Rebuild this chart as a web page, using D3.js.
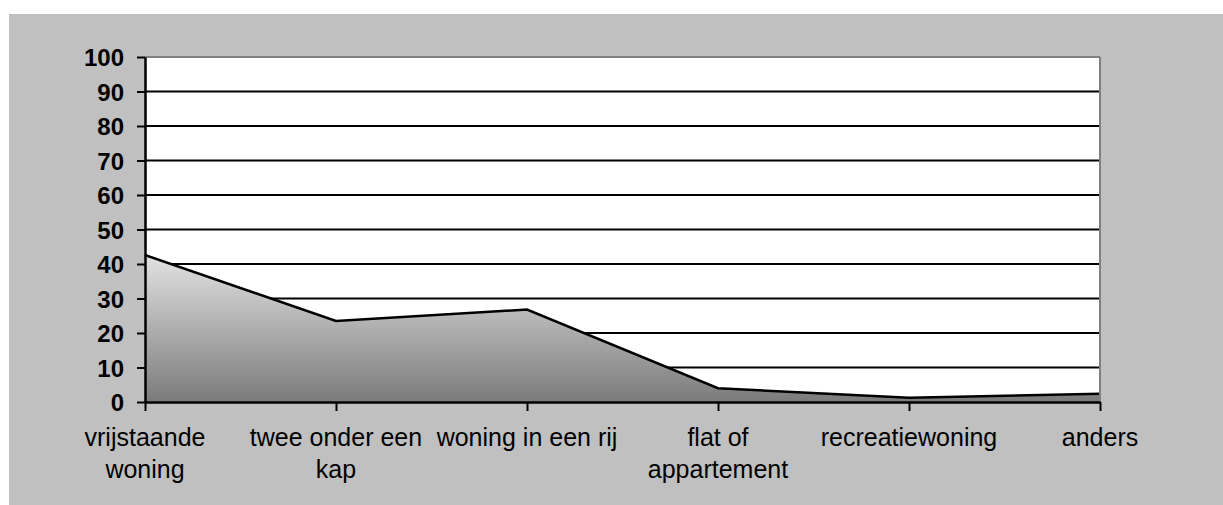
<!DOCTYPE html>
<html>
<head>
<meta charset="utf-8">
<script src="https://cdn.jsdelivr.net/npm/d3@7"></script>
<style>
  html, body { margin: 0; padding: 0; background: #ffffff; }
  svg { display: block; }
</style>
</head>
<body>
<svg id="chart" width="1223" height="505"></svg>
<script>
const categories = [
  ["vrijstaande", "woning"],
  ["twee onder een", "kap"],
  ["woning in een rij"],
  ["flat of", "appartement"],
  ["recreatiewoning"],
  ["anders"]
];
const categoryKeys = ["vrijstaande woning", "twee onder een kap", "woning in een rij", "flat of appartement", "recreatiewoning", "anders"];
const values = [42.6, 23.5, 26.8, 4.0, 1.2, 2.4];
const yTicks = [0, 10, 20, 30, 40, 50, 60, 70, 80, 90, 100];

const svg = d3.select("#chart");
const plot = { left: 145, right: 1100, top: 57, bottom: 402 };

// outer gray chart area
svg.append("rect").attr("x", 9).attr("y", 14).attr("width", 1214).attr("height", 491)
  .attr("fill", "#c0c0c0");

const x = d3.scalePoint().domain(categoryKeys).range([plot.left, plot.right]).padding(0);
const y = d3.scaleLinear().domain([0, 100]).range([plot.bottom, plot.top]);

// plot area background
svg.append("rect").attr("x", plot.left).attr("y", plot.top)
  .attr("width", plot.right - plot.left).attr("height", plot.bottom - plot.top)
  .attr("fill", "#ffffff");

// gridlines
svg.append("g").selectAll("line").data(yTicks.filter(t => t > 0 && t < 100)).join("line")
  .attr("x1", plot.left).attr("x2", plot.right)
  .attr("y1", d => y(d)).attr("y2", d => y(d))
  .attr("stroke", "#000").attr("stroke-width", 2);

// gradient
const defs = svg.append("defs");
const grad = defs.append("linearGradient").attr("id", "areaGrad")
  .attr("x1", 0).attr("y1", 0).attr("x2", 0).attr("y2", 1);
grad.append("stop").attr("offset", "0%").attr("stop-color", "#e2e2e2");
grad.append("stop").attr("offset", "100%").attr("stop-color", "#7b7b7b");

const data = categoryKeys.map((k, i) => ({ k, v: values[i] }));

const area = d3.area().x(d => x(d.k)).y0(y(0)).y1(d => y(d.v));
svg.append("path").datum(data).attr("d", area).attr("fill", "url(#areaGrad)");

const line = d3.line().x(d => x(d.k)).y(d => y(d.v));
svg.append("path").datum(data).attr("d", line)
  .attr("fill", "none").attr("stroke", "#000").attr("stroke-width", 2.5)
  .attr("stroke-linejoin", "miter");

// plot border top and right (gray)
svg.append("line").attr("x1", plot.left).attr("x2", plot.right)
  .attr("y1", plot.top).attr("y2", plot.top)
  .attr("stroke", "#808080").attr("stroke-width", 2);
svg.append("line").attr("x1", plot.right).attr("x2", plot.right)
  .attr("y1", plot.top).attr("y2", plot.bottom)
  .attr("stroke", "#808080").attr("stroke-width", 2);

// Y axis
const yAxis = svg.append("g").attr("transform", `translate(${plot.left},0)`)
  .call(d3.axisLeft(y).tickValues(yTicks).tickSize(8).tickPadding(13).tickSizeOuter(0));
yAxis.select(".domain").attr("stroke", "#000").attr("stroke-width", 2.5);
yAxis.selectAll(".tick line").attr("stroke", "#000").attr("stroke-width", 2);
yAxis.selectAll(".tick text")
  .attr("font-family", "Liberation Sans, Arial, sans-serif")
  .attr("font-size", "24px").attr("font-weight", "bold").attr("fill", "#000")
  .attr("dy", "0.36em");

// X axis
const xAxis = svg.append("g").attr("transform", `translate(0,${plot.bottom})`)
  .call(d3.axisBottom(x).tickSize(9).tickSizeOuter(0).tickFormat(""));
xAxis.select(".domain").attr("stroke", "#000").attr("stroke-width", 2.5);
xAxis.selectAll(".tick line").attr("stroke", "#000").attr("stroke-width", 2);

// category labels (multi-line)
const lab = svg.append("g")
  .attr("font-family", "Liberation Sans, Arial, sans-serif")
  .attr("font-size", "25px").attr("fill", "#000").attr("text-anchor", "middle");
categories.forEach((lines, i) => {
  const t = lab.append("text").attr("x", x(categoryKeys[i])).attr("y", 446);
  lines.forEach((ln, j) => {
    t.append("tspan").attr("x", x(categoryKeys[i])).attr("y", 446 + j * 32).text(ln);
  });
});
</script>
</body>
</html>
